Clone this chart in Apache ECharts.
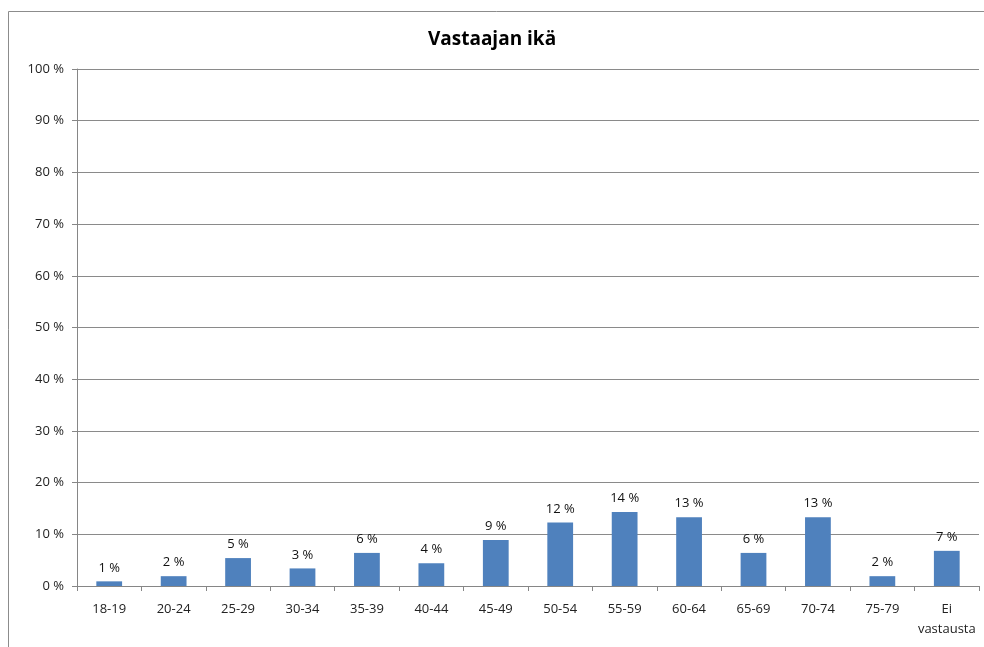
<!DOCTYPE html>
<html>
<head>
<meta charset="utf-8">
<script src="https://cdn.jsdelivr.net/npm/echarts@6/dist/echarts.min.js"></script>
<style>
  html, body { margin: 0; padding: 0; background: #fff; }
  #chart { width: 984px; height: 647px; }
</style>
</head>
<body>
<div id="chart"></div>
<script>
// Vastaajan ikä – ikäryhmien osuudet
const categories = ['18-19', '20-24', '25-29', '30-34', '35-39', '40-44', '45-49',
    '50-54', '55-59', '60-64', '65-69', '70-74', '75-79', 'Ei\nvastausta'];
const shares = [0.9, 1.9, 5.4, 3.4, 6.4, 4.4, 8.9, 12.3, 14.3, 13.3, 6.4, 13.3, 1.9, 6.8];
const yTicks = [0, 10, 20, 30, 40, 50, 60, 70, 80, 90, 100];

const chart = echarts.init(document.getElementById('chart'));
const font = 'Open Sans, Liberation Sans, sans-serif';

chart.setOption({
    animation: false,
    title: {
        text: 'Vastaajan ikä',
        left: 'center',
        top: 25,
        textStyle: {fontFamily: font, fontSize: 19, fontWeight: 'bold', color: '#000'}
    },
    graphic: [{
        type: 'rect',
        shape: {x: 8.5, y: 11.5, width: 1000, height: 700},
        style: {fill: 'none', stroke: '#8c8c8c', lineWidth: 1}
    }],
    grid: {left: 77, right: 5, top: 69, bottom: 61},
    xAxis: {
        type: 'category',
        data: categories,
        axisLine: {lineStyle: {color: '#868686'}},
        axisTick: {show: true, length: 5, lineStyle: {color: '#868686'}},
        axisLabel: {interval: 0, fontFamily: font, fontSize: 13, color: '#222', margin: 13, lineHeight: 20}
    },
    yAxis: {
        type: 'value',
        min: yTicks[0],
        max: yTicks[yTicks.length - 1],
        interval: 10,
        axisLine: {show: true, lineStyle: {color: '#868686'}},
        axisTick: {show: true, length: 5, lineStyle: {color: '#868686'}},
        splitLine: {lineStyle: {color: '#8a8a8a'}},
        axisLabel: {fontFamily: font, fontSize: 13, color: '#222', margin: 13,
            formatter: v => v + ' %'}
    },
    series: [{
        type: 'bar',
        data: shares,
        barWidth: '40%',
        itemStyle: {color: '#4f81bd'},
        label: {
            show: true,
            position: 'top',
            distance: 7,
            fontFamily: font,
            fontSize: 13,
            color: '#111',
            formatter: p => Math.round(p.value) + ' %'
        }
    }]
});
</script>
</body>
</html>
